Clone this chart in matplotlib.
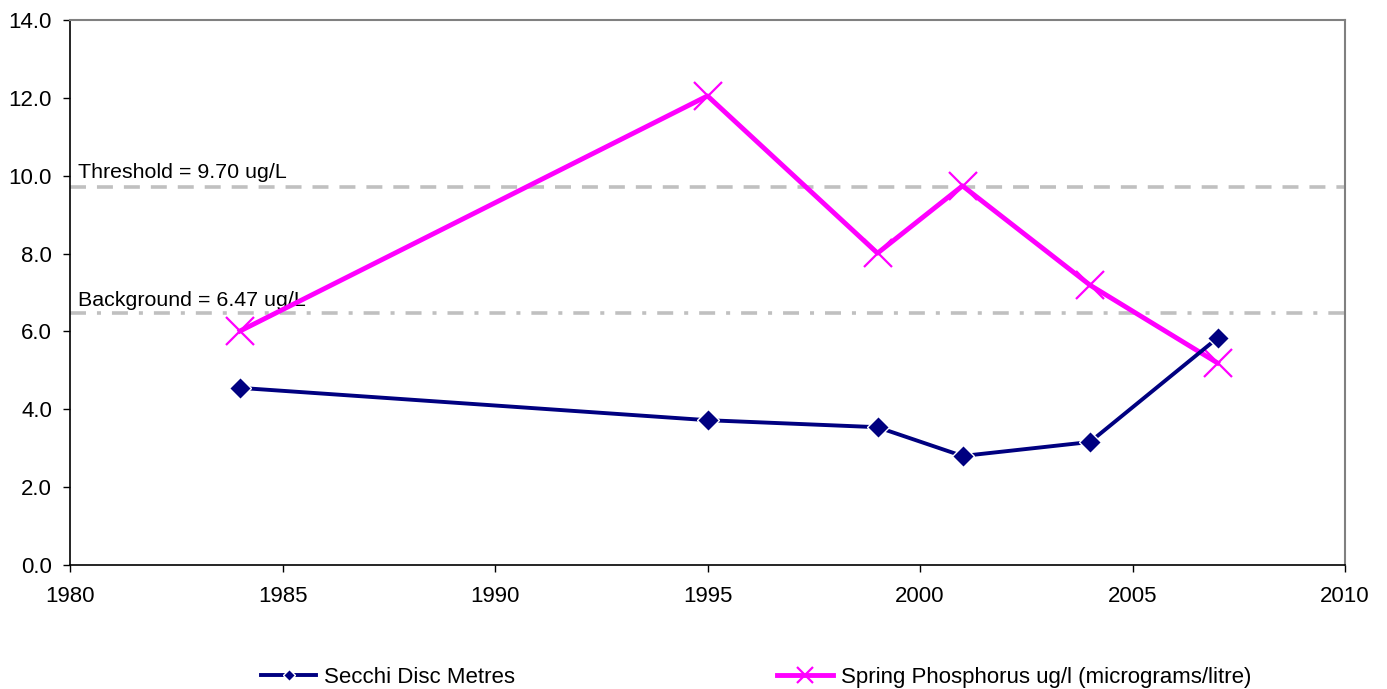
import matplotlib
matplotlib.use("Agg")
import matplotlib.pyplot as plt
from matplotlib.ticker import FormatStrFormatter

plt.rcParams['font.family'] = ['Liberation Sans', 'DejaVu Sans']
plt.rcParams['lines.scale_dashes'] = False

years = [1984, 1995, 1999, 2001, 2004, 2007]
secchi = [4.55, 3.72, 3.54, 2.80, 3.16, 5.83]
phosphorus = [6.01, 12.05, 8.01, 9.74, 7.19, 5.19]
threshold = 9.70
background = 6.47
secchi_label = "Secchi Disc Metres"
phos_label = "Spring Phosphorus ug/l (micrograms/litre)"
threshold_label = "Threshold = 9.70 ug/L"
background_label = "Background = 6.47 ug/L"

fig = plt.figure(figsize=(13.87, 6.89), dpi=100)
ax = fig.add_axes([70/1387, 1-565/689, (1345-70)/1387, (565-20)/689])

grey = '#C0C0C0'
ax.axhline(threshold, color=grey, lw=2.6, linestyle=(0, (11.5, 7.9)), zorder=1)
ax.axhline(background, color=grey, lw=2.6, linestyle=(0, (11.5, 7.9, 2.9, 7.9)), zorder=1)
ax.text(1980.2, threshold + 0.13, threshold_label, fontsize=15.4, va='bottom', ha='left')
ax.text(1980.2, background + 0.07, background_label, fontsize=15.4, va='bottom', ha='left')

navy = '#000080'
pink = '#FF00FF'
ax.plot(years, phosphorus, color=pink, lw=3.5, marker='x', markersize=20,
        markeredgewidth=1.6, label=phos_label, zorder=3)
ax.plot(years, secchi, color=navy, lw=2.8, marker='D', markersize=11.5,
        markeredgecolor='white', markeredgewidth=1.0, markerfacecolor=navy,
        label=secchi_label, zorder=4)

ax.set_xlim(1980, 2010)
ax.set_ylim(0, 14)
ax.set_xticks(range(1980, 2011, 5))
ax.set_yticks([0, 2, 4, 6, 8, 10, 12, 14])
ax.yaxis.set_major_formatter(FormatStrFormatter('%.1f'))
ax.tick_params(axis='both', labelsize=16, length=5, width=1, direction='out')
ax.tick_params(axis='y', pad=8)
ax.tick_params(axis='x', pad=10)
for s in ['left', 'bottom']:
    ax.spines[s].set_color('black')
    ax.spines[s].set_linewidth(1.2)
for s in ['top', 'right']:
    ax.spines[s].set_color('#808080')
    ax.spines[s].set_linewidth(1.5)

h, l = ax.get_legend_handles_labels()
leg = fig.legend(h[::-1], l[::-1], loc='lower center', ncol=2, frameon=False,
                 fontsize=16, bbox_to_anchor=(0.545, -0.027), columnspacing=11.8,
                 handlelength=2.5, handletextpad=0.35)
for lh in leg.legend_handles:
    lh.set_markersize(lh.get_markersize() * 0.55)

fig.savefig("out.png", dpi=100)
